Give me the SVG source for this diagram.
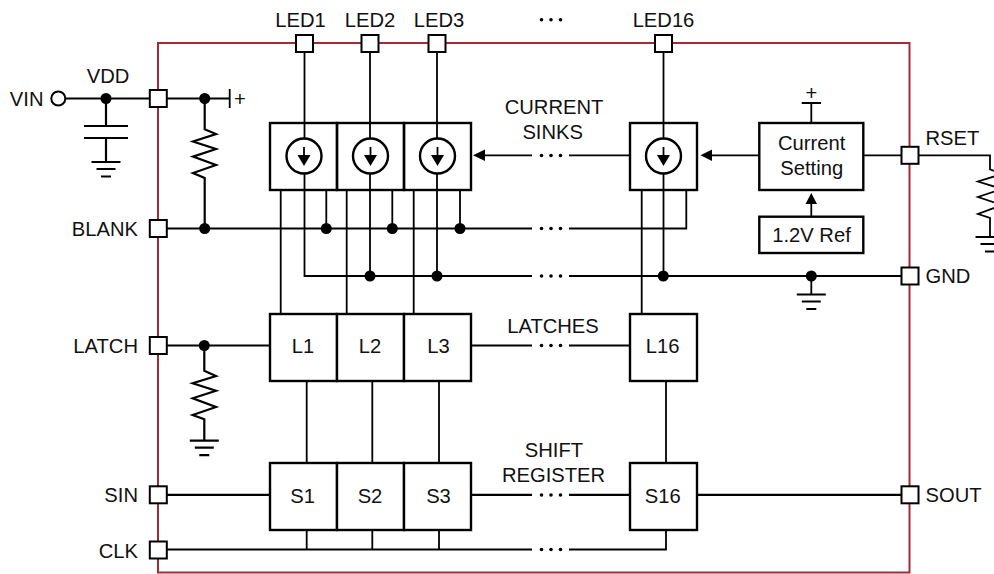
<svg xmlns="http://www.w3.org/2000/svg" width="994" height="574" viewBox="0 0 994 574">
<style>
text{font-family:"Liberation Sans",Arial,sans-serif;font-size:20.200px;fill:#111}
.m{text-anchor:middle}.e{text-anchor:end}
.w{fill:none;stroke:#000;stroke-width:1.800}
.t{stroke-width:2.200}
.b{fill:#fff;stroke:#000;stroke-width:2.400}
.n{fill:none;stroke:#000;stroke-width:2.400}
.p{fill:#fff;stroke:#000;stroke-width:2}
.d{fill:#000}
</style>
<defs>
<rect id="pin" class="p" x="-8.500" y="-8.500" width="17" height="17"/>
<g id="gnd" class="w t"><path d="M-14.500 0H14.500M-9.500 7H9.500M-5 14.500H5"/></g>
<g id="sink"><circle class="n" r="17.500"/><path class="d" d="M-6.500 -1H6.500L0 10Z"/><path class="w" d="M0 -9V1"/></g>
<circle id="dot" class="d" r="5.500"/>
<g id="dots" class="d"><circle cx="-9.500" r="1.800"/><circle r="1.800"/><circle cx="9.500" r="1.800"/></g>
</defs>
<g id="chip"><rect x="158" y="43" width="751.500" height="529.500" fill="none" stroke="#a52a33" stroke-width="2"/></g>
<g id="connectors">
<path class="w" d="M304.500 52V138.500M370 52V138.500M437 52V138.500M663.500 52V138.500"/>
<path class="w" d="M304.500 173.500V276H532M569 276H901M370 173.500V276M437 173.500V276M663.500 173.500V276"/>
<path class="w" d="M167 228.500H532M569 228.500H686.300V190M326.300 190V228.500M392.300 190V228.500M460 190V228.500"/>
<path class="w" d="M280.700 190V314M346.700 190V314M413.700 190V314M641.700 190V314"/>
<path class="w" d="M65 98.500H150M167 98.500H230M229.700 89V108"/>
<path class="w t" d="M106 98.500V126M84 126H128M84 138H128M106 138V162"/>
<path class="w t" d="M204.700 98.500V129.300L216 134 193 141.500 216 149 193 156.600 216 165 193 173 204.700 178V228.500"/>
<path class="w t" d="M167 345.500H270M204.300 345.500V370.700L216 376 192.700 383.300 216 390.700 192.700 398.300 216 407 192.700 415 204.300 419.300V440.700"/>
<path class="w t" d="M167 494.800H270M471 494.800H532M569 494.800H630M697 494.800H901"/>
<path class="w t" d="M471 345.500H532M569 345.500H630"/>
<path class="w" d="M306.700 381V463M372.300 381V463M439 381V463M666 381V463"/>
<path class="w" d="M167 549.500H532M569 549.500H666V530M306.700 530V549.500M372.300 530V549.500M439 530V549.500"/>
<path class="w" d="M485 155.300H532M569 155.300H630M712 155.300H759M863.300 155.300H901M918 155.300H990V169.300L1002 174 978 181.500 1002 189 978 197 1002 205 978 214 990 218V237"/>
<path class="w" d="M811.300 123V103M801.700 103H821M811.300 216.700V204M811.300 276V294.500"/>
<path class="d" d="M473 155.300L485 149.500V161ZM700.500 155.300L712 149.500V161ZM811.300 193L817 204H805.500Z"/>
<circle class="p" cx="58.300" cy="98.500" r="7"/>
<use href="#gnd" x="106" y="162"/><use href="#gnd" x="204.300" y="440.700"/><use href="#gnd" x="811.300" y="294.500"/><use href="#gnd" x="990" y="237"/>
<use href="#dot" x="106" y="98.500"/><use href="#dot" x="204.700" y="98.500"/><use href="#dot" x="204.700" y="228.500"/>
<use href="#dot" x="326.300" y="228.500"/><use href="#dot" x="392.300" y="228.500"/><use href="#dot" x="460" y="228.500"/>
<use href="#dot" x="370" y="276"/><use href="#dot" x="437" y="276"/><use href="#dot" x="663.300" y="276"/><use href="#dot" x="811.300" y="276"/>
<use href="#dot" x="204.300" y="345.500"/>
<use href="#dots" x="551" y="155.500"/><use href="#dots" x="551" y="228.500"/><use href="#dots" x="551" y="276"/><use href="#dots" x="551" y="345.500"/><use href="#dots" x="551" y="495"/><use href="#dots" x="551" y="549.500"/><use href="#dots" x="551" y="19.700"/>
</g>
<g id="sink1"><rect class="n" x="270" y="123" width="67" height="67"/><use href="#sink" x="304" y="156"/></g>
<g id="sink2"><rect class="n" x="337" y="123" width="67" height="67"/><use href="#sink" x="370.500" y="156"/></g>
<g id="sink3"><rect class="n" x="404" y="123" width="67" height="67"/><use href="#sink" x="437.500" y="156"/></g>
<g id="sink16"><rect class="n" x="630" y="123" width="67" height="67"/><use href="#sink" x="663.500" y="156"/></g>
<g id="setting"><rect class="n" x="759.300" y="123" width="104" height="67"/><text class="m" x="811.700" y="150">Current</text><text class="m" x="811.700" y="175">Setting</text></g>
<g id="ref"><rect class="n" x="759.300" y="216.700" width="104" height="36.300"/><text class="m" x="811.500" y="242">1.2V Ref</text></g>
<g id="l1"><rect class="b" x="270" y="314" width="67" height="67"/><text class="m" x="303" y="353">L1</text></g>
<g id="l2"><rect class="b" x="337" y="314" width="67" height="67"/><text class="m" x="370" y="353">L2</text></g>
<g id="l3"><rect class="b" x="404" y="314" width="67" height="67"/><text class="m" x="438.500" y="353">L3</text></g>
<g id="l16"><rect class="b" x="630" y="314" width="67" height="67"/><text class="m" x="662.700" y="353">L16</text></g>
<g id="s1"><rect class="b" x="270" y="463" width="67" height="67"/><text class="m" x="302.700" y="502.500">S1</text></g>
<g id="s2"><rect class="b" x="337" y="463" width="67" height="67"/><text class="m" x="370" y="502.500">S2</text></g>
<g id="s3"><rect class="b" x="404" y="463" width="67" height="67"/><text class="m" x="438.500" y="502.500">S3</text></g>
<g id="s16"><rect class="b" x="630" y="463" width="67" height="67"/><text class="m" x="662.700" y="502.500">S16</text></g>
<g id="pin-led1"><use href="#pin" x="304.500" y="43.500"/><text class="m" x="300.500" y="27">LED1</text></g>
<g id="pin-led2"><use href="#pin" x="370" y="43.500"/><text class="m" x="370" y="27">LED2</text></g>
<g id="pin-led3"><use href="#pin" x="437" y="43.500"/><text class="m" x="439" y="27">LED3</text></g>
<g id="pin-led16"><use href="#pin" x="663.500" y="43.500"/><text class="m" x="663.500" y="27">LED16</text></g>
<g id="pin-vdd"><use href="#pin" x="158.300" y="98.500"/><text class="m" x="108" y="82.700">VDD</text></g>
<g id="vin"><text class="e" x="43.500" y="106">VIN</text></g>
<g id="pin-blank"><use href="#pin" x="158.300" y="228.500"/><text class="e" x="138" y="236">BLANK</text></g>
<g id="pin-latch"><use href="#pin" x="158.300" y="345.500"/><text class="e" x="138" y="352.700">LATCH</text></g>
<g id="pin-sin"><use href="#pin" x="158.300" y="494.800"/><text class="e" x="138" y="502">SIN</text></g>
<g id="pin-clk"><use href="#pin" x="158.300" y="550"/><text class="e" x="138" y="557.700">CLK</text></g>
<g id="pin-rset"><use href="#pin" x="910" y="155.300"/><text x="925.500" y="145.300">RSET</text></g>
<g id="pin-gnd"><use href="#pin" x="910" y="276"/><text x="925.500" y="283.300">GND</text></g>
<g id="pin-sout"><use href="#pin" x="910" y="494.800"/><text x="925.500" y="501.500">SOUT</text></g>
<g id="labels"><text x="234" y="105.500">+</text><text class="m" x="811.300" y="99.500">+</text>
<text class="m" x="554" y="114">CURRENT</text><text class="m" x="552.700" y="139">SINKS</text><text class="m" x="553" y="332.700">LATCHES</text><text class="m" x="554" y="457">SHIFT</text><text class="m" x="553.500" y="481.700">REGISTER</text></g>
</svg>
